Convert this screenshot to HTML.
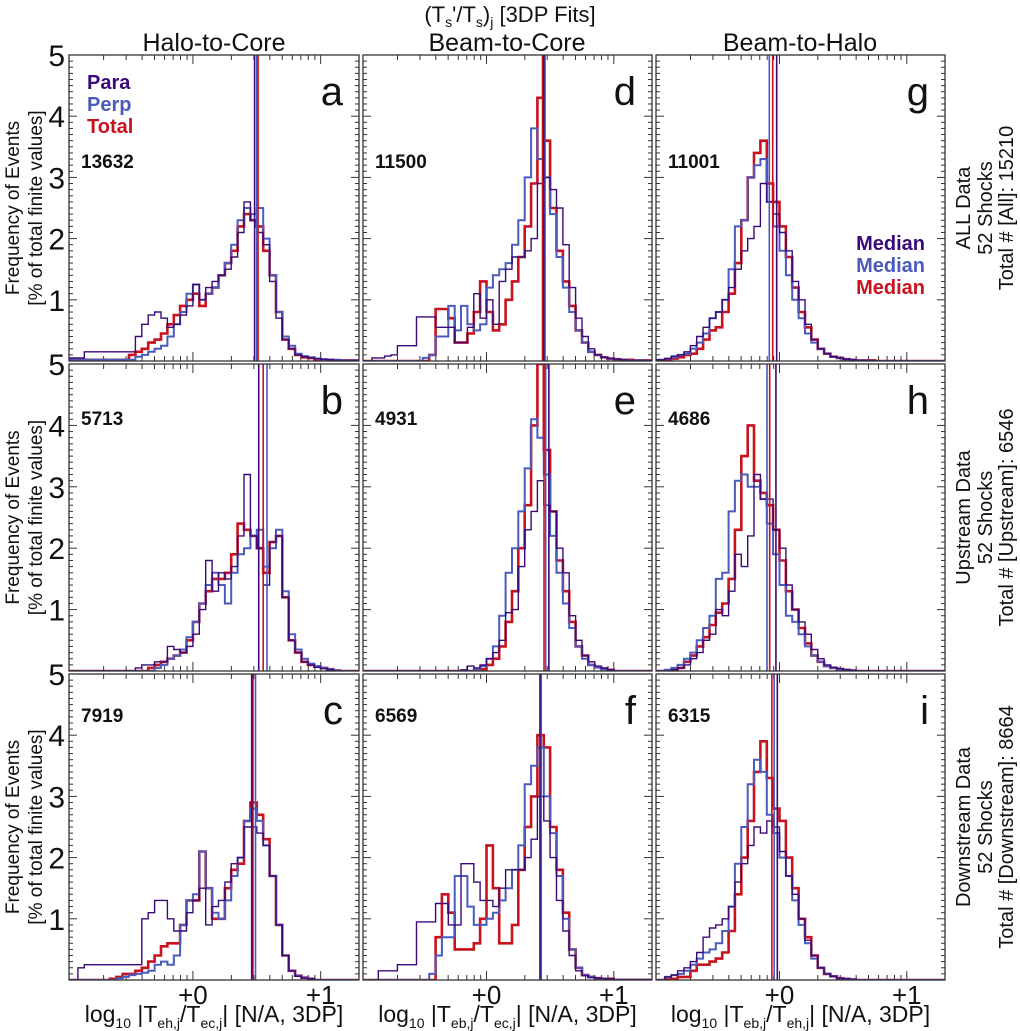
<!DOCTYPE html>
<html><head><meta charset="utf-8">
<style>
html,body{margin:0;padding:0;background:#fff;}
svg{display:block;font-family:"Liberation Sans",Arial,sans-serif;}
</style></head>
<body>
<svg id="chart" width="1020" height="1031" viewBox="0 0 1020 1031" xmlns="http://www.w3.org/2000/svg">
<text x="510" y="22" font-size="22" text-anchor="middle" fill="#111">(T<tspan font-size="14" dy="5">s</tspan><tspan dy="-5">'/T</tspan><tspan font-size="14" dy="5">s</tspan><tspan dy="-5">)</tspan><tspan font-size="14" dy="5">j</tspan><tspan dy="-5"> [3DP Fits]</tspan></text>
<text x="214" y="51" font-size="25" text-anchor="middle" fill="#111">Halo-to-Core</text>
<text x="507" y="51" font-size="25" text-anchor="middle" fill="#111">Beam-to-Core</text>
<text x="800" y="51" font-size="25" text-anchor="middle" fill="#111">Beam-to-Halo</text>
<g id="plots"></g>
</svg>
<script>
// Bins: 0.05-decade wide, first bin starts at -0.95 (extended to left edge)
const binStart = -0.95;
const binWidth = 0.05;
const yTicks = [1,2,3,4,5];
const yTickLabels = ["1","2","3","4","5"];
const xTickLabels = ["+0","+1"];
const xTickValues = [0,1];
const panelLetters = ["a","b","c","d","e","f","g","h","i"];
const panelCounts = ["13632","5713","7919","11500","4931","6569","11001","4686","6315"];

// Panel a
const paraA = [0.05,0.05,0.15,0.15,0.15,0.15,0.15,0.15,0.15,0.15,0.4,0.6,0.75,0.8,0.7,0.55,0.6,0.75,0.9,1.25,1.0,1.2,1.3,1.4,1.5,1.7,2.1,2.6,2.3,2.1,1.9,1.3,0.7,0.35,0.2,0.1,0.07,0.05,0.04,0.03,0.02,0.01,0.01,0.01,0.01];
const perpA = [0.02,0.02,0.02,0.02,0.02,0.02,0.02,0.02,0.02,0.02,0.07,0.1,0.15,0.2,0.25,0.4,0.6,0.8,1.1,1.25,1.0,1.1,1.2,1.4,1.6,1.9,2.3,2.5,2.4,2.5,2.0,1.4,0.8,0.4,0.25,0.12,0.08,0.06,0.04,0.03,0.02,0.02,0.01,0.01,0.01];
const totalA = [0.02,0.02,0.02,0.02,0.02,0.02,0.02,0.02,0.02,0.1,0.15,0.2,0.3,0.35,0.45,0.6,0.75,0.9,1.0,1.1,0.9,1.1,1.2,1.4,1.6,1.8,2.2,2.4,2.3,2.2,1.8,1.4,0.8,0.35,0.2,0.1,0.06,0.05,0.03,0.02,0.02,0.01,0.01,0.01,0.01];
// Panel b
const paraB = [0,0,0,0,0,0,0,0,0,0,0.05,0.1,0.1,0.15,0.15,0.4,0.35,0.3,0.4,0.6,1.0,1.8,1.3,1.6,1.5,1.7,2.2,3.2,2.2,2.0,1.4,2.1,2.2,1.2,0.5,0.3,0.15,0.1,0.06,0.04,0.02,0,0,0,0];
const perpB = [0,0,0,0,0,0,0,0,0,0,0,0,0,0.05,0.1,0.2,0.25,0.35,0.55,0.8,1.1,1.4,1.6,1.4,1.1,1.6,1.9,2.0,2.2,2.3,1.7,2.0,2.3,1.3,0.6,0.35,0.2,0.12,0.08,0.05,0.03,0.01,0,0,0];
const totalB = [0,0,0,0,0,0,0,0,0,0,0,0,0.05,0.1,0.15,0.2,0.25,0.3,0.5,0.8,1.1,1.3,1.5,1.5,1.6,1.9,2.4,2.3,2.2,2.0,1.6,2.1,2.2,1.2,0.5,0.3,0.15,0.1,0.07,0.05,0.03,0.01,0,0,0];
// Panel c
const paraC = [0,0.2,0.25,0.25,0.25,0.25,0.25,0.25,0.25,0.25,0.25,1.0,1.1,1.3,1.3,1.0,0.8,0.8,1.1,1.3,1.5,0.9,1.2,1.3,1.6,1.9,2.0,2.5,2.5,2.4,2.2,1.7,0.9,0.4,0.15,0.06,0.03,0.02,0,0,0,0,0,0,0];
const perpC = [0,0,0,0,0,0,0,0.03,0.05,0.08,0.1,0.12,0.15,0.25,0.3,0.25,0.4,0.9,1.3,1.4,2.1,1.5,1.1,1.0,1.3,1.7,2.0,2.6,2.8,2.6,2.2,1.7,0.9,0.4,0.15,0.07,0.04,0.02,0,0,0,0,0,0,0];
const totalC = [0,0,0,0,0,0,0.02,0.05,0.1,0.1,0.15,0.2,0.3,0.4,0.55,0.6,0.6,0.9,1.3,1.3,2.1,1.5,1.0,1.0,1.5,1.8,1.9,2.6,2.9,2.7,2.3,1.7,0.9,0.4,0.15,0.07,0.04,0.02,0,0,0,0,0,0,0];
// Panel d
const paraD = [0,0.05,0.05,0.08,0.1,0.25,0.25,0.25,0.72,0.72,0.72,0.55,0.55,0.55,0.3,0.3,0.55,1.1,0.7,1.0,0.6,1.3,1.5,1.7,1.7,1.8,2.0,2.9,3.0,2.8,2.5,1.9,1.2,0.7,0.4,0.2,0.1,0.06,0.04,0.03,0.02,0.01,0.01,0.01,0.01];
const perpD = [0,0,0,0,0,0,0,0,0,0.05,0.1,0.4,0.4,0.9,0.5,0.9,0.6,0.5,0.6,1.2,1.4,1.5,1.6,1.9,2.3,3.0,3.8,3.3,3.0,2.4,1.7,1.2,0.8,0.5,0.3,0.15,0.1,0.06,0.04,0.03,0.02,0.01,0.01,0.01,0];
const totalD = [0,0,0,0,0,0,0,0,0,0,0.1,0.85,0.85,0.7,0.3,0.3,0.45,0.8,1.3,0.8,0.5,0.6,1.0,1.3,1.7,2.2,2.9,4.3,3.6,2.5,1.8,1.3,0.9,0.5,0.3,0.15,0.1,0.06,0.04,0.03,0.02,0.02,0.01,0.01,0.01];
// Panel e
const paraE = [0,0,0,0,0,0,0,0,0,0,0,0,0,0,0,0.02,0.08,0.05,0.1,0.2,0.3,0.5,0.95,1.0,1.7,2.3,2.6,3.1,2.7,2.6,2.0,1.6,0.9,0.5,0.25,0.15,0.08,0.05,0.02,0,0,0,0,0,0];
const perpE = [0,0,0,0,0,0,0,0,0,0,0,0,0,0,0,0,0,0.03,0.08,0.2,0.4,0.9,1.6,2.0,2.6,3.3,4.1,3.8,3.2,2.2,1.6,1.1,0.7,0.4,0.2,0.1,0.06,0.03,0.02,0,0,0,0,0,0];
const totalE = [0,0,0,0,0,0,0,0,0,0,0,0,0,0,0,0,0,0,0.03,0.1,0.2,0.4,0.8,1.3,2.0,2.7,4.0,5.0,3.6,2.6,1.8,1.3,0.8,0.4,0.25,0.1,0.06,0.04,0.02,0,0,0,0,0,0];
// Panel f
const paraF = [0,0,0.15,0.15,0.15,0.25,0.25,0.25,0.95,0.95,0.95,1.25,1.25,0.9,0.9,1.9,1.9,1.6,1.3,1.3,1.2,1.5,1.8,1.8,1.8,2.0,2.3,3.0,2.6,2.0,1.3,0.8,0.4,0.15,0.07,0.04,0.03,0.02,0.02,0.01,0.01,0.01,0.01,0.01,0.01];
const perpF = [0,0,0,0,0,0,0,0,0,0,0.1,0.4,0.7,0.7,1.7,1.7,1.2,0.9,0.9,1.0,1.1,1.3,1.5,1.8,2.2,3.2,3.5,3.8,3.0,2.4,1.7,1.0,0.5,0.2,0.08,0.05,0.03,0.02,0,0,0,0,0,0,0];
const totalF = [0,0,0,0,0,0,0,0,0,0,0,0.7,1.4,1.1,0.5,0.5,0.5,0.6,1.0,2.2,1.5,0.6,0.6,0.9,1.8,2.5,3.0,4.0,3.8,2.5,1.8,1.1,0.5,0.2,0.08,0.05,0.03,0.02,0.02,0,0,0,0,0,0];
// Panel g
const paraG = [0.02,0.04,0.08,0.1,0.15,0.25,0.4,0.55,0.7,0.8,1.0,1.2,1.5,1.8,2.0,2.2,2.9,2.6,2.4,2.1,1.8,1.3,1.0,0.6,0.35,0.2,0.12,0.07,0.05,0.03,0.02,0.01,0.01,0.01,0,0,0,0,0,0,0,0,0,0,0];
const perpG = [0.02,0.04,0.06,0.1,0.12,0.2,0.3,0.45,0.7,0.8,1.0,1.5,2.2,2.3,3.0,3.2,3.3,2.6,2.2,1.8,1.4,1.0,0.7,0.45,0.3,0.2,0.12,0.07,0.05,0.03,0.02,0.01,0.01,0,0,0,0,0,0,0,0,0,0,0,0];
const totalG = [0.01,0.02,0.04,0.06,0.1,0.12,0.2,0.35,0.5,0.55,0.8,1.1,1.6,2.3,3.0,3.4,3.6,2.9,2.6,2.2,1.7,1.2,0.8,0.55,0.35,0.2,0.12,0.07,0.05,0.03,0.02,0.01,0.01,0.01,0,0,0,0,0,0,0,0,0,0,0];
// Panel h
const paraH = [0,0,0.02,0.05,0.1,0.2,0.3,0.5,0.6,1.0,0.9,1.3,1.9,1.7,2.2,3.2,2.8,2.8,2.3,2.0,1.4,1.0,0.8,0.6,0.35,0.2,0.1,0.06,0.04,0.02,0.01,0,0,0,0,0,0,0,0,0,0,0,0,0,0];
const perpH = [0,0.02,0.05,0.1,0.2,0.3,0.5,0.7,0.9,1.5,1.6,2.6,3.1,3.2,3.0,3.0,2.8,2.4,1.9,1.4,0.9,0.8,0.6,0.4,0.25,0.15,0.08,0.05,0.03,0.02,0.01,0,0,0,0,0,0,0,0,0,0,0,0,0,0];
const totalH = [0,0.01,0.02,0.05,0.15,0.25,0.4,0.55,0.75,0.95,1.1,1.5,2.3,3.5,4.0,3.1,2.9,2.7,2.3,1.8,1.3,1.0,0.7,0.45,0.25,0.15,0.08,0.05,0.03,0.02,0.01,0,0,0,0,0,0,0,0,0,0,0,0,0,0];
// Panel i
const paraI = [0,0.05,0.08,0.15,0.2,0.3,0.45,0.7,0.85,0.9,1.0,1.2,1.6,1.9,2.2,2.5,2.4,2.6,2.5,2.1,1.7,1.4,1.0,0.65,0.4,0.2,0.1,0.06,0.03,0.02,0.01,0,0,0,0,0,0,0,0,0,0,0,0,0,0];
const perpI = [0,0.05,0.08,0.1,0.15,0.25,0.35,0.45,0.5,0.6,0.8,1.2,1.9,2.5,3.2,3.6,3.4,2.7,2.4,2.0,1.7,1.3,0.9,0.6,0.35,0.2,0.1,0.06,0.03,0.02,0.01,0,0,0,0,0,0,0,0,0,0,0,0,0,0];
const totalI = [0,0.01,0.02,0.05,0.05,0.15,0.25,0.25,0.3,0.35,0.45,0.8,1.4,2.0,2.6,3.4,3.9,3.3,2.8,2.6,2.0,1.5,1.0,0.7,0.4,0.2,0.1,0.06,0.03,0.02,0.01,0,0,0,0,0,0,0,0,0,0,0,0,0,0];

// Medians [para, perp, total] per panel a..i
const mediansPara  = [0.483,0.515,0.46,0.45,0.49,0.42,-0.022,-0.028,-0.017];
const mediansPerp  = [0.50,0.58,0.49,0.46,0.465,0.43,-0.08,-0.098,-0.042];
const mediansTotal = [0.51,0.55,0.47,0.44,0.452,0.425,-0.053,-0.077,-0.06];

const paraSeries = [paraA,paraB,paraC,paraD,paraE,paraF,paraG,paraH,paraI];
const perpSeries = [perpA,perpB,perpC,perpD,perpE,perpF,perpG,perpH,perpI];
const totalSeries = [totalA,totalB,totalC,totalD,totalE,totalF,totalG,totalH,totalI];

const rowLabels = [
  ["ALL Data","52 Shocks","Total # [All]:  15210"],
  ["Upstream Data","52 Shocks","Total # [Upstream]:  6546"],
  ["Downstream Data","52 Shocks","Total # [Downstream]:  8664"]
];

// layout
const colLeft = [69, 363, 656], colRight = [359, 652, 945];
const rowTop = [55, 364, 674], rowBottom = [361, 671, 980];
const xMin = -0.97, xMax = 1.30, yMin = 0, yMax = 5;
const colors = {para:"#3b0a78", perp:"#4a5bbd", total:"#c8121e"};
const countY = [113, 61, 48];

const NS = "http://www.w3.org/2000/svg";
const root = document.getElementById("plots");
function mk(tag, attrs, parent){
  const e = document.createElementNS(NS, tag);
  for (const k in attrs) e.setAttribute(k, attrs[k]);
  (parent||root).appendChild(e);
  return e;
}

for (let c = 0; c < 3; c++) {
  for (let r = 0; r < 3; r++) {
    const p = c*3 + r;
    const L = colLeft[c], R = colRight[c], T = rowTop[r], B = rowBottom[r];
    const sx = v => L + (v - xMin) / (xMax - xMin) * (R - L);
    const sy = v => B - (v - yMin) / (yMax - yMin) * (B - T);
    const g = mk("g", {});
    
    
    const clipId = "clip" + p;
    const cp = mk("clipPath", {id: clipId}, g);
    mk("rect", {x: L, y: T, width: R-L, height: B-T}, cp);

    for (let k = 1; k < 50; k++) {
      const v = k/10, y = sy(v), major = (k % 10 === 0);
      const len = major ? 8 : 4;
      const t1 = mk("line", {x1:L, x2:L+len, y1:y, y2:y, stroke:"#333", "stroke-width":1}, g);
      
      
      const t2 = mk("line", {x1:R, x2:R-len, y1:y, y2:y, stroke:"#333", "stroke-width":1}, g);
      
      
    }
    for (let d = -1; d <= 1; d++) {
      for (let m = 1; m <= 9; m++) {
        const v = d + Math.log10(m);
        if (v < xMin || v > xMax) continue;
        const x = sx(v), len = (m === 1) ? 9 : 5;
        const t1 = mk("line", {x1:x, x2:x, y1:B, y2:B-len, stroke:"#333", "stroke-width":1}, g);
        
        
        const t2 = mk("line", {x1:x, x2:x, y1:T, y2:T+len, stroke:"#333", "stroke-width":1}, g);
        
        
      }
    }

    const series = [["total", totalSeries[p], 2.6], ["perp", perpSeries[p], 2.0], ["para", paraSeries[p], 1.4]];
    for (const [name, vals, w] of series) {
      let d = "";
      for (let i = 0; i < vals.length; i++) {
        const x0 = i === 0 ? xMin : binStart + i*binWidth;
        const x1 = Math.min(binStart + (i+1)*binWidth, xMax);
        const y = sy(vals[i] || 0);
        if (i === 0) d += "M" + sx(x0).toFixed(1) + "," + y.toFixed(1);
        else d += "V" + y.toFixed(1);
        d += "H" + sx(x1).toFixed(1);
      }
      if (binStart + vals.length*binWidth < xMax) d += "V" + sy(0).toFixed(1) + "H" + sx(xMax).toFixed(1);
      const path = mk("path", {d: d, fill:"none", stroke: colors[name], "stroke-width": w, "clip-path":"url(#"+clipId+")", "stroke-linejoin":"miter"}, g);
      
      
    }
    const meds = [["total", mediansTotal[p]], ["perp", mediansPerp[p]], ["para", mediansPara[p]]];
    for (const [name, v] of meds) {
      const ml = mk("line", {x1:sx(v), x2:sx(v), y1:T, y2:B, stroke: colors[name], "stroke-width":1.6}, g);
      
      
    }
    const fr = mk("rect", {x:L, y:T, width:R-L, height:B-T, fill:"none", stroke:"#333", "stroke-width":1.3}, g);
    
    

    const lt = mk("text", {x: R-16, y: T+50, "font-size":40, "text-anchor":"end", fill:"#111"}, g);
    lt.textContent = panelLetters[p];
    
    
    const ct = mk("text", {x: L+12, y: T+countY[r], "font-size":19, "font-weight":"bold", fill:"#111"}, g);
    ct.textContent = panelCounts[p];
    
    

    if (c === 0) {
      for (let k = 0; k < yTicks.length; k++) {
        const yl = mk("text", {x: L-4, y: sy(yTicks[k]) + 11, "font-size":30, "text-anchor":"end", fill:"#111"}, g);
        yl.textContent = yTickLabels[k];
        
        
      }
      const cy = (T+B)/2;
      const yt1 = mk("text", {x: 0, y: 0, "font-size":19, "text-anchor":"middle", fill:"#111", transform:"translate(19,"+cy+") rotate(-90)"}, g);
      yt1.textContent = "Frequency of Events";
      
      
      const yt2 = mk("text", {x: 0, y: 0, "font-size":19, "text-anchor":"middle", fill:"#111", transform:"translate(42,"+cy+") rotate(-90)"}, g);
      yt2.textContent = "[% of total finite values]";
      
      
    }
    if (c === 2) {
      const cy = (T+B)/2;
      const xs = [970, 992, 1013];
      for (let k = 0; k < 3; k++) {
        const rl = mk("text", {x:0, y:0, "font-size":20, "text-anchor":"middle", fill:"#111", transform:"translate("+xs[k]+","+cy+") rotate(-90)"}, g);
        rl.textContent = rowLabels[r][k];
        
        
      }
    }
    if (r === 2) {
      for (let k = 0; k < xTickValues.length; k++) {
        const xl = mk("text", {x: sx(xTickValues[k]), y: B+24, "font-size":26, "text-anchor":"middle", fill:"#111"}, g);
        xl.textContent = xTickLabels[k];
        
        
      }
    }
  }
}

const legA = [["Para", colors.para, 89], ["Perp", colors.perp, 111], ["Total", colors.total, 133]];
for (const [t, col, y] of legA) {
  const e = mk("text", {x: 87, y: y, "font-size":20, "font-weight":"bold", fill: col});
  e.textContent = t;
  
  
}
const legG = [[colors.para, 250], [colors.perp, 272], [colors.total, 294]];
for (const [col, y] of legG) {
  const e = mk("text", {x: 925, y: y, "font-size":20, "font-weight":"bold", fill: col, "text-anchor":"end"});
  e.textContent = "Median";
  
  
}

const xTitles = [["eh,j","ec,j"],["eb,j","ec,j"],["eb,j","eh,j"]];
for (let c = 0; c < 3; c++) {
  const cx = (colLeft[c]+colRight[c])/2;
  const t = mk("text", {x: cx, y: 1022, "font-size":23, "text-anchor":"middle", fill:"#111"});
  
  
  t.innerHTML = 'log<tspan font-size="14" dy="6">10</tspan><tspan dy="-6"> |T</tspan><tspan font-size="14" dy="6">' + xTitles[c][0] + '</tspan><tspan dy="-6">/T</tspan><tspan font-size="14" dy="6">' + xTitles[c][1] + '</tspan><tspan dy="-6">| [N/A, 3DP]</tspan>';
}
</script>
</body></html>
